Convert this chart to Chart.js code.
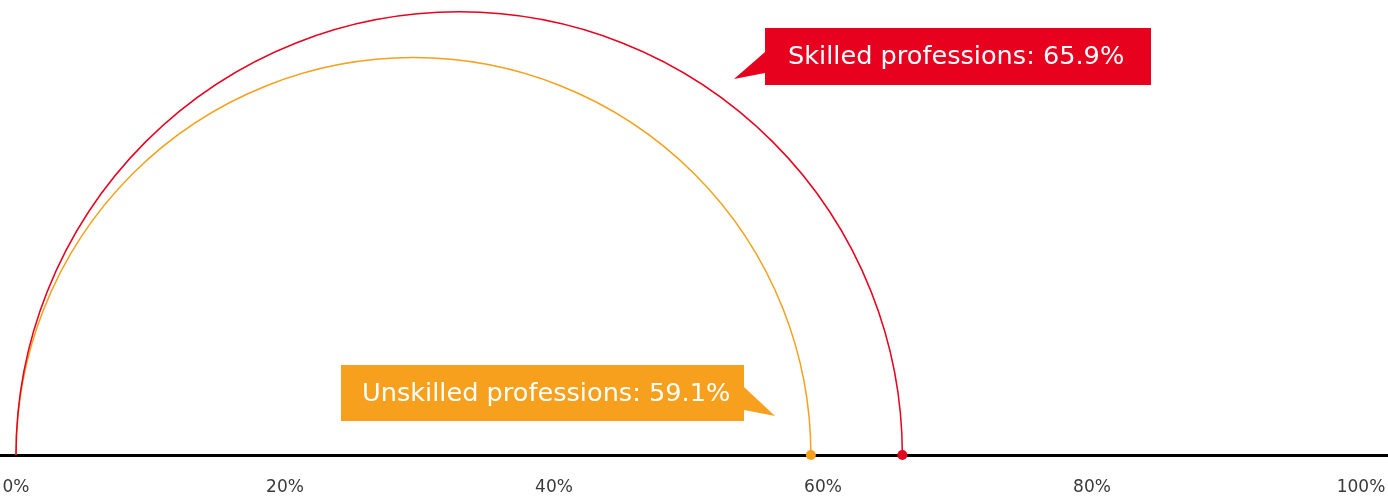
<!DOCTYPE html>
<html>
<head>
<meta charset="utf-8">
<title>Professions</title>
<script src="https://cdn.jsdelivr.net/npm/chart.js@4.4.1/dist/chart.umd.min.js"></script>
<style>
  html, body { margin: 0; padding: 0; background: #fff; }
  #wrap { width: 1388px; height: 499px; }
</style>
</head>
<body>
<div id="wrap"><canvas id="arcChart" width="1388" height="499"></canvas></div>
<script>
// Share of each group, in percent
const categories = ['Skilled professions', 'Unskilled professions'];
const shares = [65.9, 59.1];
const tickValues = [0, 20, 40, 60, 80, 100];

const seriesColors = ['#e8001f', '#f6a01d'];

// Callout boxes, in canvas pixels: box rect plus the pointer triangle
const callouts = [
    { box: [765, 28, 386, 57], tail: [[765, 52], [734, 79], [765, 73]], textX: 788 },
    { box: [341, 365, 403, 56], tail: [[744, 387], [775, 416], [744, 410]], textX: 362 }
];

// Semicircles from 0 to each value, baseline across the full width
const arcPlugin = {
    id: 'arcs',
    beforeDatasetsDraw(chart) {
        const ctx = chart.ctx;
        const x = chart.scales.x;
        const y0 = chart.scales.y.getPixelForValue(0);

        ctx.save();
        ctx.strokeStyle = '#000';
        ctx.lineWidth = 3;
        ctx.beginPath();
        ctx.moveTo(0, y0 + 0.5);
        ctx.lineTo(chart.width, y0 + 0.5);
        ctx.stroke();

        // draw the smaller one first so the larger arc sits on top
        for (let i = shares.length - 1; i >= 0; i--) {
            const left = x.getPixelForValue(0);
            const right = x.getPixelForValue(shares[i]);
            const r = (right - left) / 2;
            ctx.strokeStyle = seriesColors[i];
            ctx.lineWidth = 1.5;
            ctx.beginPath();
            ctx.arc(left + r, y0, r, Math.PI, 0);
            ctx.stroke();
        }
        ctx.restore();
    },
    afterDraw(chart) {
        const ctx = chart.ctx;
        ctx.save();
        callouts.forEach((c, i) => {
            const [bx, by, bw, bh] = c.box;
            ctx.fillStyle = seriesColors[i];
            ctx.fillRect(bx, by, bw, bh);
            ctx.beginPath();
            ctx.moveTo(c.tail[0][0], c.tail[0][1]);
            ctx.lineTo(c.tail[1][0], c.tail[1][1]);
            ctx.lineTo(c.tail[2][0], c.tail[2][1]);
            ctx.closePath();
            ctx.fill();

            ctx.fillStyle = '#fff';
            ctx.font = '25.6px "DejaVu Sans", sans-serif';
            ctx.textBaseline = 'middle';
            ctx.textAlign = 'left';
            ctx.fillText(categories[i] + ': ' + shares[i].toFixed(1) + '%', c.textX, by + bh / 2 + 1);
        });
        ctx.restore();
    }
};

const ctx = document.getElementById('arcChart').getContext('2d');
new Chart(ctx, {
    type: 'scatter',
    data: {
        datasets: [{
            data: shares.map(v => ({ x: v, y: 0 })),
            pointBackgroundColor: seriesColors,
            pointBorderWidth: 0,
            pointRadius: 5,
            pointHoverRadius: 5,
            clip: false
        }]
    },
    options: {
        responsive: false,
        animation: false,
        events: [],
        layout: { padding: { left: 16, right: 27, top: 0, bottom: 4 } },
        plugins: {
            legend: { display: false },
            tooltip: { enabled: false }
        },
        scales: {
            x: {
                type: 'linear',
                min: 0,
                max: 100,
                afterBuildTicks(axis) {
                    axis.ticks = tickValues.map(v => ({ value: v }));
                },
                afterFit(axis) {
                    axis.height = 40;
                    axis.paddingLeft = 0;
                    axis.paddingRight = 0;
                },
                grid: { display: false, drawTicks: false },
                border: { display: false },
                ticks: {
                    padding: 22,
                    color: '#3a3a3a',
                    font: { family: '"DejaVu Sans", sans-serif', size: 17 },
                    callback: v => v + '%'
                }
            },
            y: {
                display: false,
                min: 0,
                max: 1
            }
        }
    },
    plugins: [arcPlugin]
});
</script>
</body>
</html>
